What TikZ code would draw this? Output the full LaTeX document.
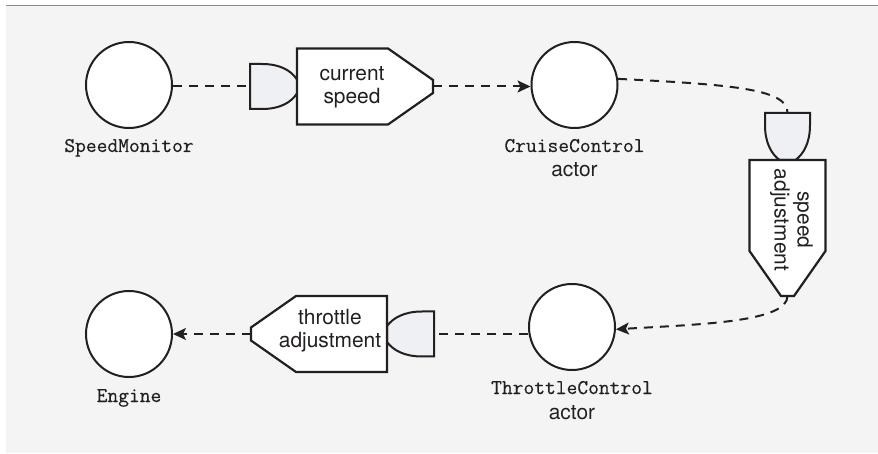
\documentclass[tikz,border=0pt]{standalone}
\usepackage{fontspec}
\setsansfont{TeX Gyre Heros}
\setmonofont{Latin Modern Mono}[FakeBold=0.4]
\usetikzlibrary{arrows.meta}
\definecolor{bg}{HTML}{F4F4F4}
\definecolor{ink}{HTML}{231F20}
\definecolor{portc}{HTML}{EEF0F3}
\definecolor{rulec}{HTML}{8A8A8A}
\begin{document}
\begin{tikzpicture}[x=1bp,y=-1bp,
  actor/.style={circle, draw=ink, fill=white, line width=2bp, minimum size=86bp, inner sep=0pt},
  monolbl/.style={font=\ttfamily\fontsize{21}{24}\selectfont, anchor=base, inner sep=0pt, text=ink},
  sanslbl/.style={font=\sffamily\fontsize{21}{24}\selectfont, anchor=base, inner sep=0pt, text=ink},
  boxtext/.style={font=\sffamily\fontsize{21}{23}\selectfont, align=center, inner sep=0pt, text=ink},
  flow/.style={draw=ink, line width=2bp, dash pattern=on 9bp off 7bp},
  arrowed/.style={-{Stealth[length=13bp,width=12bp,inset=3bp]}},
  portshape/.style={draw=ink, fill=portc, line width=2bp, line join=miter},
  msgshape/.style={draw=ink, fill=white, line width=2.2bp, line join=miter}
]
\useasboundingbox (0,0) rectangle (878,454);
\fill[bg] (6,6) rectangle (878,453);
\draw[rulec, line width=1bp] (6,6) -- (878,6);

% actors
\node[actor] (SM) at (129,85) {};
\node[actor] (CC) at (574.5,85) {};
\node[actor] (TC) at (572,327) {};
\node[actor] (EN) at (129,334) {};

% labels
\node[monolbl] (SMlbl) at (129,152) {SpeedMonitor};
\node[monolbl] (CClbl) at (574.5,152) {CruiseControl};
\node[sanslbl] (CCact) at (574.5,177) {actor};
\node[monolbl] (TClbl) at (572,394) {ThrottleControl};
\node[sanslbl] (TCact) at (572,419) {actor};
\node[monolbl] (ENlbl) at (129,402) {Engine};

% message 1: current speed
\begin{scope}[shift={(250,86.5)}]
  \coordinate (P1in) at (0,0);
  \coordinate (P1out) at (183,0);
  \path[portshape] (0,-22.5) -- (12,-22.5) .. controls (30,-22.5) and (41,-16) .. (47,-7) -- (47,7) .. controls (41,16) and (30,22.5) .. (12,22.5) -- (0,22.5) -- cycle;
  \path[msgshape] (47,-38) -- (138,-38) -- (183,-6.5) -- (183,6.5) -- (138,38) -- (47,38) -- cycle;
\end{scope}

% message 2: speed adjustment
\begin{scope}[shift={(787.5,113)}, rotate=-90]
  \coordinate (P2in) at (0,0);
  \coordinate (P2out) at (183,0);
  \path[portshape] (0,-22.5) -- (12,-22.5) .. controls (30,-22.5) and (41,-16) .. (47,-8) -- (47,8) .. controls (41,16) and (30,22.5) .. (12,22.5) -- (0,22.5) -- cycle;
  \path[msgshape] (47,-38) -- (138,-38) -- (183,-6.5) -- (183,6.5) -- (138,38) -- (47,38) -- cycle;
\end{scope}

% message 3: throttle adjustment
\begin{scope}[shift={(434,334)}, rotate=180]
  \coordinate (P3in) at (0,0);
  \coordinate (P3out) at (183,0);
  \path[portshape] (0,-22.5) -- (12,-22.5) .. controls (30,-22.5) and (41,-16) .. (47,-8) -- (47,8) .. controls (41,16) and (30,22.5) .. (12,22.5) -- (0,22.5) -- cycle;
  \path[msgshape] (47,-38) -- (138,-38) -- (183,-6.5) -- (183,6.5) -- (138,38) -- (47,38) -- cycle;
\end{scope}

% message texts
\node[boxtext] (M1) at (352,87.5) {current\\speed};
\node[boxtext, rotate=-90] (M2) at (791.5,220) {speed\\adjustment};
\node[boxtext] (M3) at (330,330.5) {throttle\\adjustment};

% connectors
\draw[flow] (SM.east |- P1in) -- (P1in);
\draw[flow, arrowed] (P1out) -- (CC.west |- P1out);
\draw[flow] (CC.8) .. controls +(122,6) and +(0,-23) .. (P2in);
\draw[flow, arrowed] (P2out) .. controls +(0,26) and +(85,-5) .. (TC.-3);
\draw[flow] (TC.west |- P3in) -- (P3in);
\draw[flow, arrowed] (P3out) -- (EN.east |- P3out);
\end{tikzpicture}
\end{document}
